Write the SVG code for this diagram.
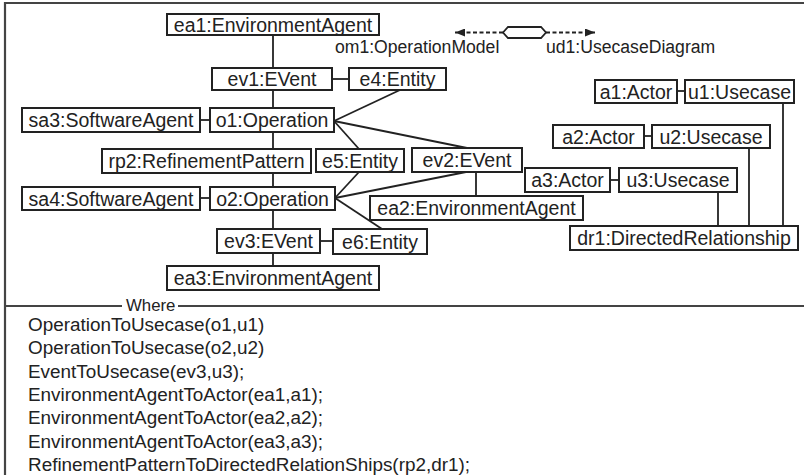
<svg xmlns="http://www.w3.org/2000/svg" width="804" height="475" viewBox="0 0 804 475">
<defs>
<marker id="ah" viewBox="0 0 10 8" refX="10" refY="4" markerWidth="10" markerHeight="8" markerUnits="userSpaceOnUse" orient="auto">
<path d="M0,0 L10,4 L0,8 Z" fill="#222"/>
</marker>
</defs>
<style>
.n rect{fill:#fff;stroke:#222;stroke-width:2}
.n text{font-family:"Liberation Sans",Arial,sans-serif;font-size:19.5px;fill:#222;text-anchor:middle}
.c line,.c polyline{stroke:#222;stroke-width:1.8;fill:none}
.lbl{font-family:"Liberation Sans",Arial,sans-serif;font-size:17.6px;fill:#222}
.w{font-family:"Liberation Sans",Arial,sans-serif;font-size:18.9px;fill:#222}
.frame{stroke:#444;stroke-width:2.2;fill:none}
</style>
<rect width="804" height="475" fill="#fff"/>
<g id="frame">
<polyline class="frame" points="5,475 5,3 804,3"/>
<line class="frame" x1="5" y1="306" x2="122" y2="306"/>
<line class="frame" x1="178" y1="306" x2="804" y2="306"/>
<text class="lbl" x="126" y="310.5" style="font-size:16.8px">Where</text>
</g>
<g class="c" id="connectors">
<line x1="273" y1="35" x2="273" y2="68"/>
<line x1="273" y1="90" x2="273" y2="108"/>
<line x1="332" y1="79" x2="349" y2="79"/>
<line x1="200" y1="120" x2="210" y2="120"/>
<line x1="334" y1="121" x2="400" y2="90"/>
<line x1="334" y1="121" x2="467" y2="148"/>
<line x1="334" y1="121" x2="359" y2="149"/>
<line x1="273" y1="132" x2="273" y2="149"/>
<line x1="273" y1="173" x2="273" y2="187"/>
<line x1="200" y1="198" x2="210" y2="198"/>
<line x1="359" y1="172" x2="335" y2="198"/>
<line x1="466" y1="172" x2="335" y2="198"/>
<line x1="335" y1="198" x2="382" y2="229"/>
<line x1="476" y1="172" x2="476" y2="196"/>
<line x1="273" y1="210" x2="273" y2="229"/>
<line x1="320" y1="241" x2="333" y2="241"/>
<line x1="273" y1="253" x2="273" y2="266"/>
<line x1="677" y1="91" x2="685" y2="91"/>
<line x1="644" y1="136" x2="652" y2="136"/>
<line x1="610" y1="180" x2="619" y2="180"/>
<line x1="783" y1="103" x2="783" y2="226"/>
<line x1="749" y1="148" x2="749" y2="226"/>
<line x1="718" y1="192" x2="718" y2="226"/>
<line x1="503" y1="32.5" x2="455" y2="32.5" stroke-dasharray="4,2.5" marker-end="url(#ah)"/>
<line x1="546" y1="32.5" x2="595" y2="32.5" stroke-dasharray="4,2.5" marker-end="url(#ah)"/>
</g>
<g id="hexagon">
<polygon points="503,32.5 508,27 541,27 546,32.5 541,38 508,38" fill="#fff" stroke="#222" stroke-width="1.8"/>
<text class="lbl" x="335" y="53">om1:OperationModel</text>
<text class="lbl" x="546" y="53">ud1:UsecaseDiagram</text>
</g>
<g class="n" id="ea1"><rect x="167" y="14" width="212" height="21"/><text x="273" y="32">ea1:EnvironmentAgent</text></g>
<g class="n" id="ev1"><rect x="212" y="68" width="120" height="22"/><text x="272" y="86">ev1:EVent</text></g>
<g class="n" id="e4"><rect x="349" y="68" width="97" height="22"/><text x="397.5" y="86">e4:Entity</text></g>
<g class="n" id="sa3"><rect x="22" y="108" width="178" height="24"/><text x="111" y="127">sa3:SoftwareAgent</text></g>
<g class="n" id="o1"><rect x="210" y="108" width="124" height="24"/><text x="272" y="127">o1:Operation</text></g>
<g class="n" id="rp2"><rect x="102" y="149" width="209" height="24"/><text x="206.5" y="168">rp2:RefinementPattern</text></g>
<g class="n" id="e5"><rect x="316" y="149" width="88" height="23"/><text x="360" y="167.5">e5:Entity</text></g>
<g class="n" id="ev2"><rect x="412" y="148" width="110" height="24"/><text x="467" y="167">ev2:EVent</text></g>
<g class="n" id="sa4"><rect x="22" y="187" width="178" height="23"/><text x="111" y="205.5">sa4:SoftwareAgent</text></g>
<g class="n" id="o2"><rect x="210" y="187" width="125" height="23"/><text x="272.5" y="205.5">o2:Operation</text></g>
<g class="n" id="ea2"><rect x="370" y="196" width="213" height="24"/><text x="476.5" y="215">ea2:EnvironmentAgent</text></g>
<g class="n" id="ev3"><rect x="217" y="229" width="103" height="24"/><text x="268.5" y="248">ev3:EVent</text></g>
<g class="n" id="e6"><rect x="333" y="229" width="94" height="25"/><text x="380" y="248.5">e6:Entity</text></g>
<g class="n" id="ea3"><rect x="167" y="266" width="212" height="24"/><text x="273" y="285">ea3:EnvironmentAgent</text></g>
<g class="n" id="a1"><rect x="595" y="80" width="82" height="23"/><text x="636" y="98.5">a1:Actor</text></g>
<g class="n" id="u1"><rect x="685" y="80" width="109" height="23"/><text x="739.5" y="98.5">u1:Usecase</text></g>
<g class="n" id="a2"><rect x="553" y="125" width="91" height="23"/><text x="598.5" y="143.5">a2:Actor</text></g>
<g class="n" id="u2"><rect x="652" y="125" width="118" height="23"/><text x="711" y="143.5">u2:Usecase</text></g>
<g class="n" id="a3"><rect x="525" y="168" width="85" height="24"/><text x="567.5" y="187">a3:Actor</text></g>
<g class="n" id="u3"><rect x="619" y="168" width="118" height="24"/><text x="678" y="187">u3:Usecase</text></g>
<g class="n" id="dr1"><rect x="570" y="226" width="228" height="24"/><text x="684" y="245">dr1:DirectedRelationship</text></g>
<g id="where">
<text class="w" x="28" y="331">OperationToUsecase(o1,u1)</text>
<text class="w" x="28" y="354.3">OperationToUsecase(o2,u2)</text>
<text class="w" x="28" y="377.6">EventToUsecase(ev3,u3);</text>
<text class="w" x="28" y="400.9">EnvironmentAgentToActor(ea1,a1);</text>
<text class="w" x="28" y="424.2">EnvironmentAgentToActor(ea2,a2);</text>
<text class="w" x="28" y="447.5">EnvironmentAgentToActor(ea3,a3);</text>
<text class="w" x="28" y="470.6">RefinementPatternToDirectedRelationShips(rp2,dr1);</text>
</g>
</svg>
